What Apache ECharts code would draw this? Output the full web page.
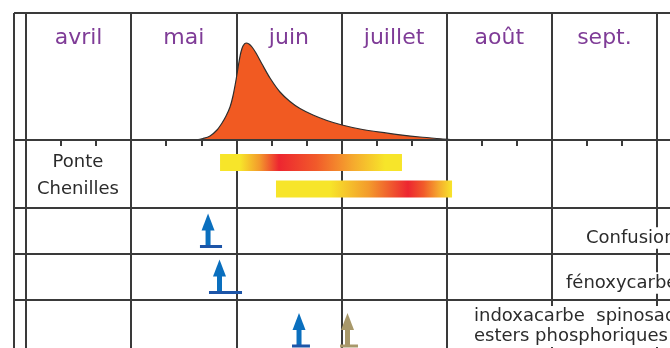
<!DOCTYPE html>
<html><head><meta charset="utf-8">
<script src="https://cdn.jsdelivr.net/npm/echarts@6/dist/echarts.min.js"></script>
<style>html,body{margin:0;padding:0;background:#fff}#c{width:670px;height:348px}</style>
</head><body><div id="c"></div><script>
// ---------- DATA (x in months counted from 1 April: 1 unit = 1 month) ----------
const MONTHS = ['avril', 'mai', 'juin', 'juillet', 'août', 'sept.'];
// flight curve (relative catches)
const FLIGHT_X = [1.607, 1.683, 1.750, 1.816, 1.864, 1.902, 1.940, 1.968, 1.997, 2.025, 2.044, 2.063, 2.092, 2.120, 2.149, 2.187, 2.244, 2.320, 2.415, 2.510, 2.605, 2.729, 2.862, 3.005, 3.176, 3.366, 3.556, 3.746, 3.965, 4.079];
const FLIGHT_Y = [0, 1.5, 4, 10, 17, 24, 33, 44, 60, 78, 88, 94, 97, 96, 93, 87, 76, 62, 48, 38.5, 31.5, 25, 19.5, 15, 11, 7.8, 5.2, 3, 1, 0];
// stages
const STAGE_NAMES = ['Ponte', 'Chenilles'];
const STAGE_START = [1.845, 2.377];
const STAGE_END = [3.575, 4.051];
const STAGE_PEAK = [2.406, 3.632];
const STAGE_RISE = [2.035, 2.891];   // end of the pale lead-in
const STAGE_FADE = [3.414, 4.051];   // start of the pale tail
// treatments
const TREAT_NAMES = ['Confusion', 'fénoxycarbe', 'indoxacarbe  spinosad\nesters phosphoriques'];
const ARROW_X = [1.731, 1.840, 2.596, 3.057];
const ARROW_FROM = [1.654, 1.740, 2.529, 2.986];
const ARROW_TO = [1.864, 2.054, 2.700, 3.157];
const ARROW_ROW = [0, 1, 2, 2];
const ARROW_KIND = [0, 0, 0, 1];

// ---------- LAYOUT / STYLE ----------
const W = 670, H = 348;
const FRAME_X = 14, PLOT_X = 26, MONTH_W = 105.17, X_MAX = 6.6;
const PLOT_W = MONTH_W * X_MAX;
const ROWS = [13, 140, 208, 254, 300, 361];
const LINE = '#3a3a3a';
const FONT = '"DejaVu Sans", sans-serif';
const PURPLE = '#7f3c97';
const TXT = '#2b2b2b';
const YELLOW = '#f7e52a', ORANGE = '#f39a2c', RED = '#ed2630', RED_OR = '#f15a2a', LIGHT_OR = '#f5aa2e';
const ARROW_COLORS = ['#0a6fbe', '#a8986a'];
const ARROW_BASE = ['#1d55a8', '#a8986a'];
const BAR_H = 17;
const TREAT_POS = [[585, 238, 'middle'], [565, 283, 'middle'], [473, 306, 'top']];

const chart = echarts.init(document.getElementById('c'), null, {renderer: 'canvas'});

function grid(top, height, width) {
  return {left: PLOT_X, top: top, width: width || PLOT_W, height: height, outerBoundsMode: 'none', containLabel: false};
}
function hiddenX(gi) { return {type: 'value', gridIndex: gi, min: 0, max: X_MAX, show: false}; }
function splitX(gi, minor) {
  return {
    type: 'value', gridIndex: gi, min: 0, max: X_MAX, interval: 1,
    axisLine: {show: false}, axisTick: {show: false}, axisLabel: {show: false},
    splitLine: {show: true, lineStyle: {color: LINE, width: 2}},
    minorTick: {show: !!minor, splitNumber: 3, length: 6, lineStyle: {color: LINE, width: 2}},
    minorSplitLine: {show: false}
  };
}

function renderStage(params, api) {
  const s = api.value(0), e = api.value(1), pk = api.value(2), a = api.value(3), b = api.value(4), row = api.value(5);
  const p0 = api.coord([s, row]), p1 = api.coord([e, row]);
  const t = v => Math.min(1, Math.max(0, (v - s) / (e - s)));
  const tp = t(pk), ta = t(a), tb = t(b);
  const stops = [
    {offset: 0, color: YELLOW},
    {offset: ta, color: YELLOW},
    {offset: (ta + tp) / 2, color: ORANGE},
    {offset: tp, color: RED},
    {offset: tp + 0.35 * (tb - tp), color: RED_OR},
    {offset: tp + 0.7 * (tb - tp), color: LIGHT_OR},
    {offset: tb, color: YELLOW},
    {offset: 1, color: YELLOW}
  ];
  return {
    type: 'rect',
    shape: {x: p0[0], y: p0[1] - BAR_H / 2, width: p1[0] - p0[0], height: BAR_H},
    style: {fill: new echarts.graphic.LinearGradient(0, 0, 1, 0, stops)}
  };
}

function renderArrow(params, api) {
  const x = api.value(0), from = api.value(1), to = api.value(2), kind = api.value(3);
  const c = api.coord([x, 0]);
  const l = api.coord([from, 0])[0], r = api.coord([to, 0])[0];
  const cx = c[0], cy = c[1];
  const col = ARROW_COLORS[kind], bcol = ARROW_BASE[kind];
  return {
    type: 'group',
    children: [
      {type: 'polygon', shape: {points: [[cx, cy - 17.5], [cx - 6.5, cy - 0.5], [cx + 6.5, cy - 0.5]]}, style: {fill: col}},
      {type: 'rect', shape: {x: cx - 2.5, y: cy - 1, width: 5, height: 15.5}, style: {fill: col}},
      {type: 'rect', shape: {x: l, y: cy + 14, width: r - l, height: 3}, style: {fill: bcol}}
    ]
  };
}

function arrowSeries(row, gi) {
  const data = [];
  ARROW_X.forEach((x, i) => {
    if (ARROW_ROW[i] === row) data.push([x, ARROW_FROM[i], ARROW_TO[i], ARROW_KIND[i], 0]);
  });
  return {
    type: 'custom', xAxisIndex: gi, yAxisIndex: gi, renderItem: renderArrow,
    encode: {x: [0, 1, 2], y: 4}, data: data, z: 5, clip: false
  };
}

const graphic = [];
ROWS.slice(0, 5).forEach(y => {
  graphic.push({type: 'line', shape: {x1: FRAME_X, y1: y, x2: W, y2: y}, style: {stroke: LINE, lineWidth: 2}, z: 50});
});
[FRAME_X, PLOT_X].forEach(x => {
  graphic.push({type: 'line', shape: {x1: x, y1: ROWS[0], x2: x, y2: H}, style: {stroke: LINE, lineWidth: 2}, z: 50});
});
TREAT_NAMES.forEach((name, i) => {
  graphic.push({
    type: 'text', x: TREAT_POS[i][0], y: TREAT_POS[i][1], z: 100,
    style: {
      text: name, fontSize: 18, fontFamily: FONT, fill: TXT, lineHeight: 19.5,
      align: 'left', verticalAlign: TREAT_POS[i][2], backgroundColor: '#fff', padding: [1, 1]
    }
  });
});

const option = {
  animation: false,
  backgroundColor: '#fff',
  grid: [
    grid(ROWS[0], ROWS[1] - ROWS[0]),            // 0 flight curve
    grid(ROWS[1], ROWS[5] - ROWS[1]),            // 1 lower area (month lines)
    grid(149.25, 53),                            // 2 stage bars
    grid(ROWS[2], ROWS[3] - ROWS[2]),            // 3 Confusion
    grid(ROWS[3], ROWS[4] - ROWS[3]),            // 4 fénoxycarbe
    grid(ROWS[4], ROWS[5] - ROWS[4]),            // 5 indoxacarbe...
    grid(ROWS[0], ROWS[1] - ROWS[0], MONTH_W * 6) // 6 month names
  ],
  xAxis: [
    splitX(0, true),
    splitX(1, false),
    hiddenX(2), hiddenX(3), hiddenX(4), hiddenX(5),
    {
      type: 'category', gridIndex: 6, data: MONTHS, position: 'top', boundaryGap: true,
      axisLine: {show: false}, axisTick: {show: false}, splitLine: {show: false},
      axisLabel: {inside: true, margin: 25, verticalAlign: 'middle', fontSize: 22, fontFamily: FONT, color: PURPLE}
    }
  ],
  yAxis: [
    {type: 'value', gridIndex: 0, min: 0, max: ROWS[1] - ROWS[0], show: false},
    {type: 'value', gridIndex: 1, min: 0, max: 1, show: false},
    {
      type: 'category', gridIndex: 2, data: STAGE_NAMES, inverse: true,
      axisLine: {show: false}, axisTick: {show: false}, splitLine: {show: false},
      axisLabel: {inside: true, margin: 52, align: 'center', fontSize: 18, fontFamily: FONT, color: TXT}
    },
    {type: 'category', gridIndex: 3, data: [TREAT_NAMES[0]], show: false},
    {type: 'category', gridIndex: 4, data: [TREAT_NAMES[1]], show: false},
    {type: 'category', gridIndex: 5, data: [TREAT_NAMES[2]], show: false},
    {type: 'value', gridIndex: 6, min: 0, max: 1, show: false}
  ],
  series: [
    {
      type: 'line', xAxisIndex: 0, yAxisIndex: 0, smooth: 0.3,
      symbol: 'none', showSymbol: false,
      lineStyle: {color: '#2e2e2e', width: 1.2},
      areaStyle: {color: '#f15a22', opacity: 1},
      data: FLIGHT_X.map((x, i) => [x, FLIGHT_Y[i]]), z: 3
    },
    {
      type: 'custom', xAxisIndex: 2, yAxisIndex: 2, renderItem: renderStage,
      encode: {x: [0, 1], y: 5}, z: 4,
      data: STAGE_START.map((s, i) => [s, STAGE_END[i], STAGE_PEAK[i], STAGE_RISE[i], STAGE_FADE[i], i])
    },
    arrowSeries(0, 3),
    arrowSeries(1, 4),
    arrowSeries(2, 5)
  ],
  graphic: graphic
};
chart.setOption(option);
</script></body></html>
